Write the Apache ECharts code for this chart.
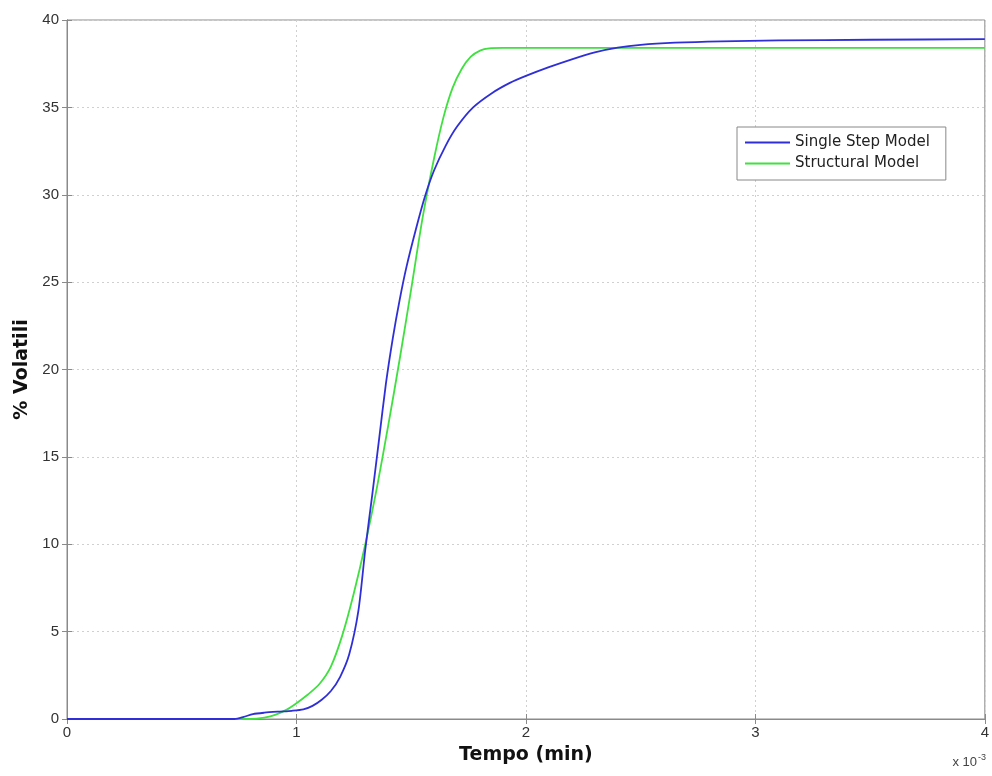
<!DOCTYPE html>
<html>
<head>
<meta charset="utf-8">
<script src="https://cdn.jsdelivr.net/npm/echarts@6/dist/echarts.min.js"></script>
<style>
html,body{margin:0;padding:0;background:#fff;}
#chart{width:992px;height:776px;}
</style>
</head>
<body>
<div id="chart"></div>
<script>
// Tempo (min), x 10^-3
const singleStepX = [0, 0.5, 0.73, 0.77, 0.81, 0.86, 0.92, 0.98, 1.03, 1.07, 1.11, 1.15, 1.19, 1.23, 1.27, 1.3, 1.33, 1.36, 1.39, 1.42, 1.45, 1.48, 1.52, 1.56, 1.6, 1.65, 1.7, 1.77, 1.85, 1.93, 2.0, 2.1, 2.2, 2.3, 2.4, 2.5, 2.65, 2.85, 3.1, 3.5, 4.0];
const singleStepY = [0, 0, 0, 0.12, 0.28, 0.36, 0.42, 0.47, 0.55, 0.75, 1.1, 1.6, 2.4, 3.7, 6.2, 9.7, 12.8, 16.0, 19.2, 21.8, 24.0, 25.9, 28.0, 29.9, 31.4, 32.8, 33.9, 35.0, 35.8, 36.4, 36.8, 37.3, 37.75, 38.15, 38.42, 38.58, 38.7, 38.78, 38.83, 38.87, 38.9];
const structuralX = [0, 0.5, 0.8, 0.86, 0.91, 0.96, 1.0, 1.05, 1.1, 1.15, 1.2, 1.25, 1.3, 1.35, 1.4, 1.45, 1.5, 1.55, 1.6, 1.64, 1.68, 1.72, 1.76, 1.8, 1.84, 1.9, 2.0, 3.0, 4.0];
const structuralY = [0, 0, 0, 0.08, 0.25, 0.55, 0.9, 1.4, 2.0, 3.0, 4.8, 7.2, 10.0, 13.2, 16.8, 20.6, 24.6, 28.7, 32.1, 34.4, 36.1, 37.2, 37.9, 38.25, 38.38, 38.4, 38.4, 38.4, 38.4];
const seriesNames = ['Single Step Model', 'Structural Model'];
const xTicks = [0, 1, 2, 3, 4];
const yTicks = [0, 5, 10, 15, 20, 25, 30, 35, 40];

const zip = (xs, ys) => xs.map((x, i) => [x, ys[i]]);

const chart = echarts.init(document.getElementById('chart'), null, {renderer: 'canvas'});
const axisColor = '#8a8a8a';
const sans = 'Liberation Sans, Arial, sans-serif';
const wide = 'DejaVu Sans, sans-serif';
const labelStyle = {color: '#333', fontSize: 15, fontFamily: sans};
const split = {show: true, lineStyle: {color: '#d0d0d0', type: [2, 3], width: 1}};

chart.setOption({
  animation: false,
  backgroundColor: '#fff',
  grid: {left: 67, right: 7, top: 20, bottom: 57, show: true, borderColor: axisColor, borderWidth: 1},
  legend: {
    data: seriesNames,
    orient: 'vertical',
    left: 737, top: 127,
    backgroundColor: '#fff',
    borderColor: '#888', borderWidth: 1,
    padding: [8, 16, 9, 8],
    itemWidth: 45, itemHeight: 2, itemGap: 6,
    icon: 'rect',
    textStyle: {color: '#222', fontSize: 15, fontFamily: wide}
  },
  xAxis: [{
    type: 'value', min: xTicks[0], max: xTicks[xTicks.length - 1], interval: 1,
    name: 'Tempo (min)', nameLocation: 'middle', nameGap: 27,
    nameTextStyle: {fontSize: 19, fontWeight: 'bold', color: '#111', fontFamily: wide},
    axisLine: {show: true, lineStyle: {color: axisColor}},
    axisTick: {show: true, inside: true, length: 5, lineStyle: {color: axisColor}},
    axisLabel: Object.assign({margin: 6}, labelStyle),
    splitLine: split
  }, {
    type: 'value', position: 'top', min: xTicks[0], max: xTicks[xTicks.length - 1], interval: 1,
    axisLine: {show: true, lineStyle: {color: axisColor}},
    axisTick: {show: true, inside: true, length: 5, lineStyle: {color: axisColor}},
    axisLabel: {show: false}, splitLine: {show: false}
  }],
  yAxis: [{
    type: 'value', min: yTicks[0], max: yTicks[yTicks.length - 1], interval: 5,
    name: '% Volatili', nameLocation: 'middle', nameGap: 30,
    nameTextStyle: {fontSize: 19, fontWeight: 'bold', color: '#111', fontFamily: wide},
    axisLine: {show: true, lineStyle: {color: axisColor}},
    axisTick: {show: true, inside: true, length: 5, lineStyle: {color: axisColor}},
    axisLabel: Object.assign({margin: 8}, labelStyle),
    splitLine: split
  }, {
    type: 'value', position: 'right', min: yTicks[0], max: yTicks[yTicks.length - 1], interval: 5,
    axisLine: {show: true, lineStyle: {color: axisColor}},
    axisTick: {show: true, inside: true, length: 5, lineStyle: {color: axisColor}},
    axisLabel: {show: false}, splitLine: {show: false}
  }],
  graphic: [{
    type: 'text', right: 6, top: 753,
    style: {
      text: '{a|x 10}{b|-3}',
      rich: {
        a: {fontSize: 13, fill: '#444', fontFamily: sans},
        b: {fontSize: 9, fill: '#444', verticalAlign: 'top', padding: [0, 0, 9, 1], fontFamily: sans}
      }
    }
  }],
  series: [{
    name: seriesNames[0], type: 'line', data: zip(singleStepX, singleStepY),
    showSymbol: false, smooth: 0.25, color: '#2f2fd8',
    lineStyle: {width: 1.8, color: '#2f2fd8'}, z: 3
  }, {
    name: seriesNames[1], type: 'line', data: zip(structuralX, structuralY),
    showSymbol: false, smooth: 0.25, color: '#3fe03f',
    lineStyle: {width: 1.8, color: '#3fe03f'}, z: 2
  }]
});
</script>
</body>
</html>
